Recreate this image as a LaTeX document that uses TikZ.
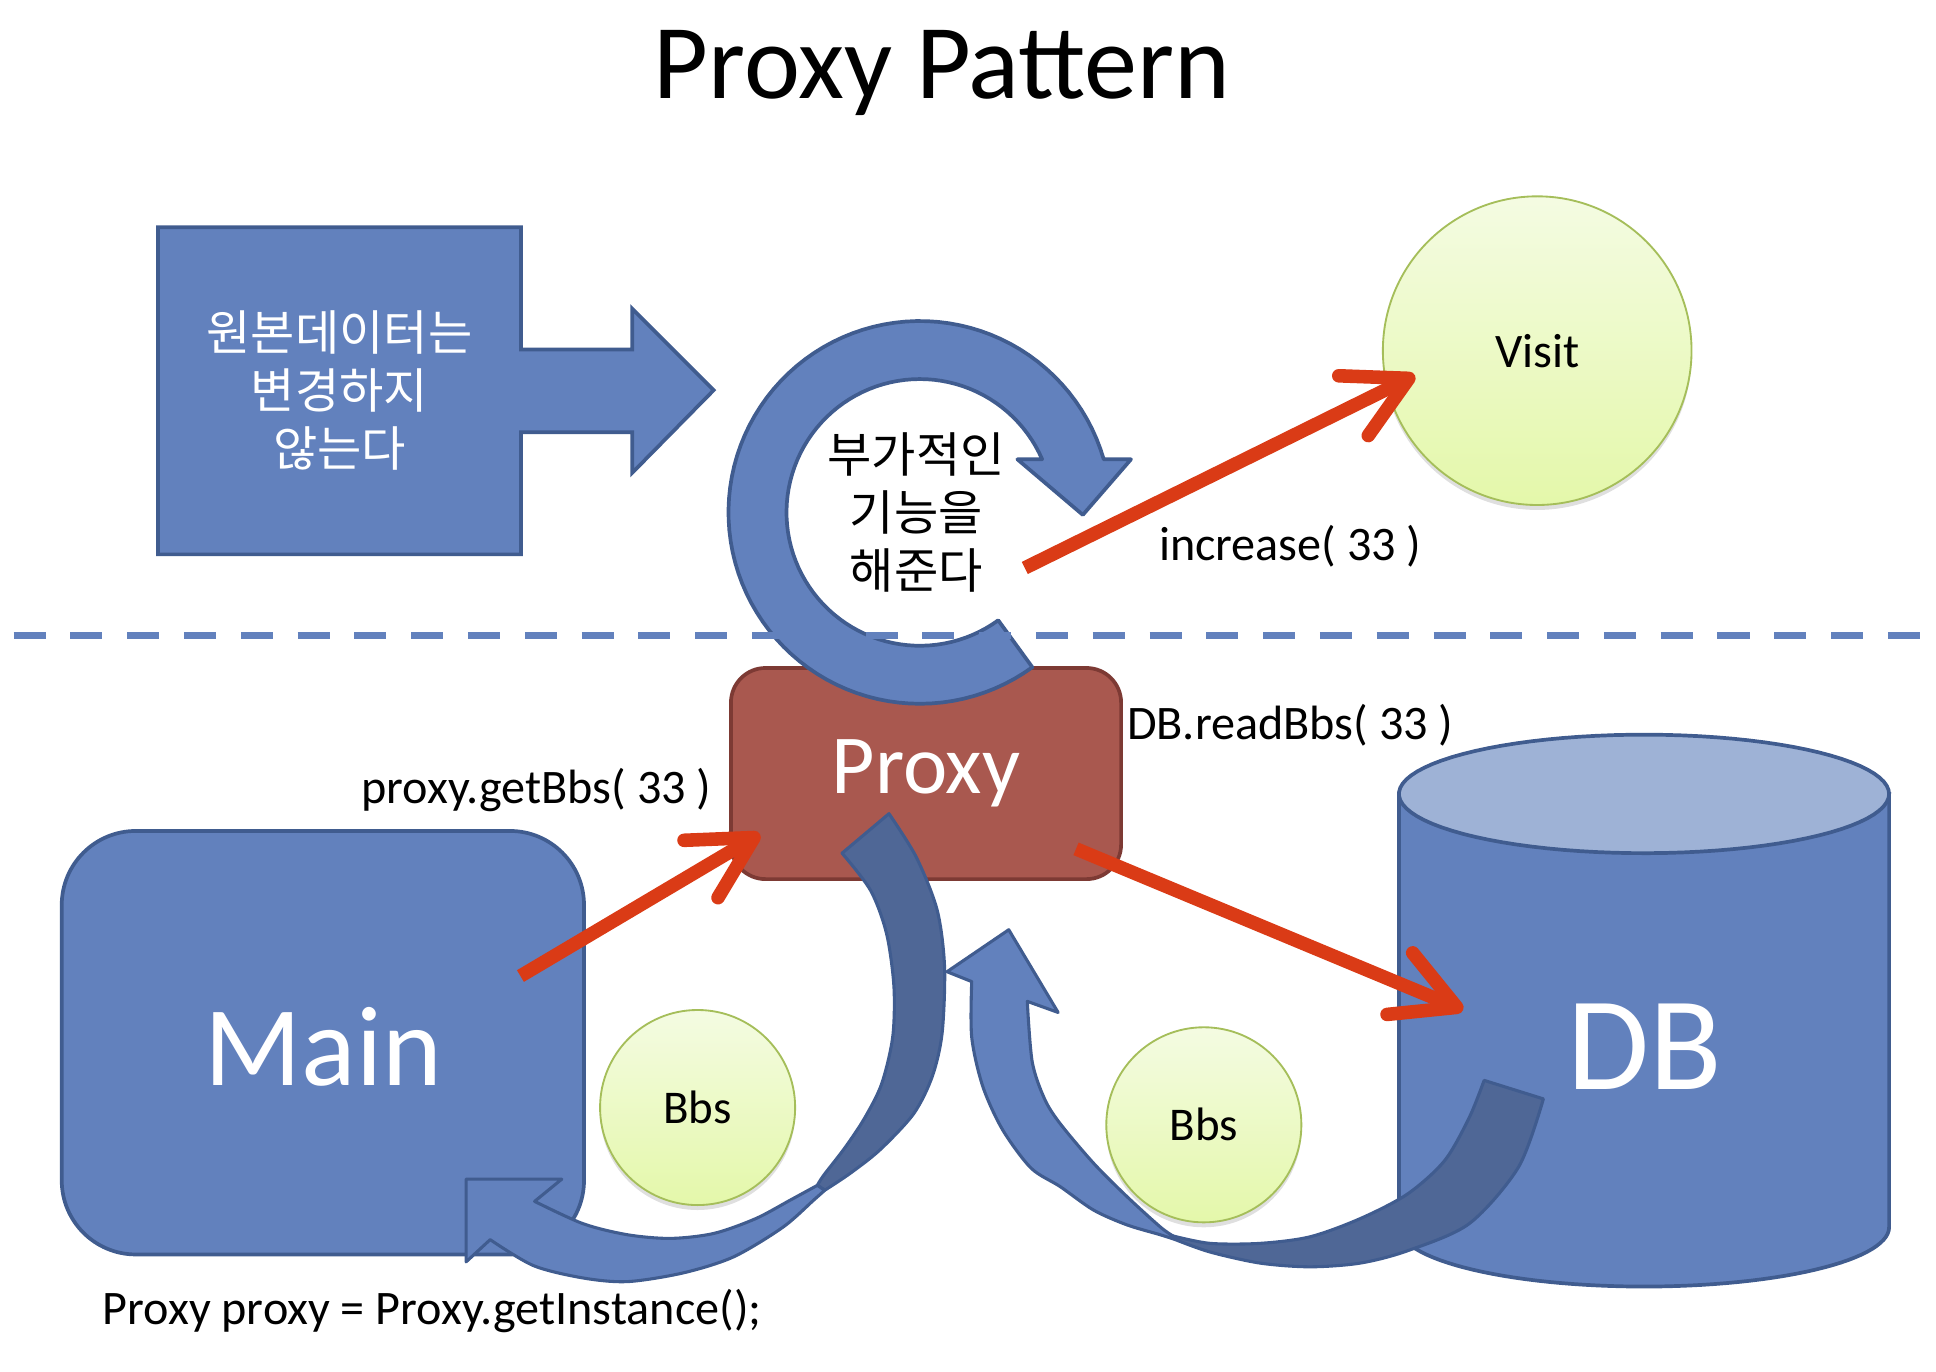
\documentclass[tikz,border=0pt]{standalone}
\usepackage{fontspec}
\setmainfont{Carlito}
\newfontfamily\kofont{Noto Sans CJK KR}
\usepackage{tikz}
\usetikzlibrary{arrows.meta, positioning, calc, shadows}

\definecolor{boxblue}{RGB}{98,129,189}
\definecolor{boxline}{RGB}{64,92,143}
\definecolor{backblue}{RGB}{79,103,150}
\definecolor{dbtop}{RGB}{158,178,214}
\definecolor{proxyred}{RGB}{169,88,79}
\definecolor{proxyline}{RGB}{125,58,52}
\definecolor{callred}{RGB}{218,59,22}
\definecolor{bbstop}{RGB}{244,251,226}
\definecolor{bbsbottom}{RGB}{228,248,170}
\definecolor{bbsline}{RGB}{165,190,90}

\begin{document}
\begin{tikzpicture}[x=1pt, y=-1pt,
    % Shape styles
    bluebox/.style={draw=boxline, fill=boxblue, line width=3pt},
    backband/.style={draw=boxline, fill=backblue, line width=2.5pt, line join=round},
    frontband/.style={draw=boxline, fill=boxblue, line width=2.5pt, line join=round},
    mainbox/.style={bluebox, rounded corners=60pt, minimum width=423, minimum height=343,
        text=white, font=\fontsize{92}{92}\selectfont},
    proxybox/.style={draw=proxyline, fill=proxyred, line width=3pt, rounded corners=28pt,
        minimum width=316, minimum height=171, text=white, font=\fontsize{68}{68}\selectfont},
    % Ball styles
    ball/.style={circle, draw=bbsline, line width=1.5pt, top color=bbstop, bottom color=bbsbottom,
        drop shadow={shadow xshift=0pt, shadow yshift=-4pt, opacity=0.25},
        font=\fontsize{38}{38}\selectfont},
    % Text styles
    kotext/.style={align=center, inner sep=0pt, font=\kofont\fontsize{39}{47}\selectfont},
    label/.style={inner sep=0pt, font=\fontsize{39}{39}\selectfont},
    % Red call arrows
    call/.style={draw=callred, line width=11pt, -{Straight Barb[length=50pt, width=54pt, round]}}
]
\useasboundingbox (0,0) rectangle (1568,1111);

% Title
\node[font=\fontsize{86}{86}\selectfont, anchor=base] (title) at (763,80) {Proxy Pattern};

% Callout with right arrow
\draw[bluebox] (128,184) -- (422,184) -- (422,283) -- (512,283) -- (512,250) -- (578,316)
    -- (512,383) -- (512,350) -- (422,350) -- (422,449) -- (128,449) -- cycle;
\node[kotext, text=white] (orig_text) at (275,316) {원본데이터는\\변경하지\\않는다};

% Visit
\node[ball, minimum size=250, font=\fontsize{39}{39}\selectfont] (visit) at (1245,284) {Visit};

% Proxy box
\node[proxybox] (proxy_box) at (750,626.5) {Proxy};

% Circular arrow round the extra text
\draw[bluebox, line join=round]
    plot[domain=54:343.9, samples=90] ({745+155*cos(\x)},{415+155*sin(\x)})
    -- (916,372) -- (877,417) -- (824,372)
    -- plot[domain=336.5:54, samples=90] ({745+108*cos(\x)},{415+108*sin(\x)}) -- cycle;
\node[kotext] (add_text) at (742,415) {부가적인\\기능을\\해준다};

% Dashed separator
\coordinate (sep_left) at (11,515);
\coordinate (sep_right) at (1560,515);
\draw[boxblue, line width=5.7pt, dash pattern=on 26pt off 20pt] (sep_left) -- (sep_right);

% Main box
\node[mainbox] (main_box) at (261.5,844.5) {};
\node[text=white, font=\fontsize{92}{92}\selectfont] (main_label) at (262,848) {Main};

% DB cylinder
\draw[bluebox] (1133,643) -- (1133,994)
    -- plot[domain=180:0, samples=60] ({1331.5+198.5*cos(\x)},{994+48*sin(\x)})
    -- (1530,643) -- cycle;
\draw[bluebox, fill=dbtop] plot[domain=0:360, samples=90] ({1331.5+198.5*cos(\x)},{643+48*sin(\x)}) -- cycle;
\node[text=white, font=\fontsize{108}{108}\selectfont] (db_label) at (1332,848) {DB};

% Curved arrow: Proxy back to Main
\draw[backband] (682,691) -- (720,659)
    -- plot[smooth] coordinates {(720,659) (742,694) (759,737) (765,783) (763,837) (755,872) (740,902) (713,931) (689,950) (668,964)}
    -- (662,960)
    -- plot[smooth] coordinates {(662,960) (667,952) (684,930) (700,906) (714,878) (723,840) (724,799) (718,756) (705,721) (682,691)} -- cycle;
\draw[frontband] (377.5,955) -- (455,955) -- (433,973)
    -- plot[smooth] coordinates {(433,973) (472,991) (508,1000) (543,1003) (578,999) (612,987) (640,972) (662,960)}
    -- (668,964)
    -- plot[smooth] coordinates {(668,964) (659,972) (634,994) (594,1018) (553,1031) (508,1038) (472,1035) (432,1025) (397,1004)}
    -- (377.5,1022) -- cycle;

% Curved arrow: DB back to Proxy
\draw[backband] (1202,875) -- (1250,890)
    -- plot[smooth] coordinates {(1250,890) (1230,945) (1190,991) (1140,1013) (1101.6,1023) (1061,1026) (1020.6,1023) (980,1014) (952,1004)}
    -- (950,1001)
    -- plot[smooth] coordinates {(950,1001) (980,1007) (1020.6,1007) (1061,1001.7) (1101.6,987) (1140,967) (1170,940) (1190,905) (1202,875)} -- cycle;
\draw[frontband] (817,753) -- (857,820) -- (832,811)
    -- plot[smooth] coordinates {(832,811) (836,860) (846,890) (858.6,910) (885.6,942) (912.6,969) (939.6,993.6) (950,1001)}
    -- (952,1004)
    -- plot[smooth] coordinates {(952,1004) (939.6,1000) (912.6,992) (885.6,980) (858.6,961) (835,946) (812,915) (796,880) (787,840) (787,795)}
    -- (767,787) -- cycle;

% Bbs objects
\node[ball, minimum size=158] (bbs_left) at (565,897) {Bbs};
\node[ball, minimum size=158] (bbs_right) at (975,911) {Bbs};

% Calls
\draw[call] ($(add_text.center)+(88,45)$) -- ($(visit.center)+(-99,20)$);
\draw[call] ($(main_box.north east)+(-53,119)$) -- ($(proxy_box.south west)+(25,-38)$);
\draw[call] ($(proxy_box.south east)+(-38,-26)$) -- ($(db_label.center)+(-147,-30)$);

% Labels
\node[label] (lbl_increase) at (1045,442) {increase( 33 )};
\node[label] (lbl_read) at (1045,587) {DB.readBbs( 33 )};
\node[label] (lbl_get) at (434.5,640) {proxy.getBbs( 33 )};
\node[label] (lbl_instance) at (350,1062) {Proxy proxy = Proxy.getInstance();};

\end{tikzpicture}
\end{document}
